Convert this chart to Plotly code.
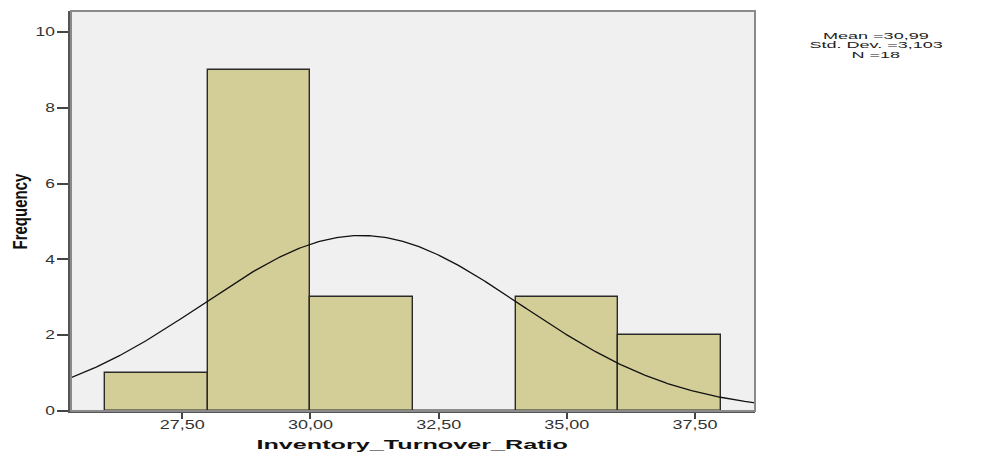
import numpy as np
import plotly.graph_objects as go

# Histogram bins (lower edges) and frequencies
bin_starts = [26, 28, 30, 32, 34, 36]
bin_width = 2
frequencies = [1, 9, 3, 0, 3, 2]

# Summary statistics shown in the corner
mean_val = 30.99
std_val = 3.103
n_obs = 18

x_ticks = [27.5, 30.0, 32.5, 35.0, 37.5]
y_ticks = [0, 2, 4, 6, 8, 10]

x_range = [25.33, 38.67]
y_range = [0, 10.55]

# Plot-area geometry in pixels
M_L, M_R, M_T, M_B = 71, 246, 11, 48
W, H = 1001, 459
PW, PH = W - M_L - M_R, H - M_T - M_B


def px_to_paper(xp, yp):
    return (xp - M_L) / PW, (H - M_B - yp) / PH


fig = go.Figure()

centers = [s + bin_width / 2 for s in bin_starts]
fig.add_trace(go.Bar(
    x=centers, y=frequencies, width=[bin_width] * len(centers),
    marker=dict(color="#D3CE97", line=dict(color="#2a2a2a", width=1.4)),
    hoverinfo="skip", showlegend=False,
))

# Fitted normal curve scaled to counts
xs = np.linspace(x_range[0], x_range[1], 400)
ys = n_obs * bin_width / (std_val * np.sqrt(2 * np.pi)) * np.exp(-0.5 * ((xs - mean_val) / std_val) ** 2)
fig.add_trace(go.Scatter(
    x=xs, y=ys, mode="lines", line=dict(color="#111111", width=1.3),
    hoverinfo="skip", showlegend=False,
))

FONT = "Arial, Liberation Sans, sans-serif"
tick_font = dict(family=FONT, size=12, color="#333333")

fig.update_layout(
    width=W, height=H,
    margin=dict(l=M_L, r=M_R, t=M_T, b=M_B, autoexpand=False),
    paper_bgcolor="white", plot_bgcolor="#F0F0F0",
    separators=", ",
    bargap=0,
    xaxis=dict(
        range=x_range, tickvals=x_ticks, tickformat=".2f",
        ticks="outside", ticklen=6, tickwidth=2, tickcolor="#444444",
        tickfont=tick_font, showgrid=False, zeroline=False, automargin=False,
        showline=True, linecolor="#555555", linewidth=1.5,
    ),
    yaxis=dict(
        range=y_range, tickvals=y_ticks,
        ticks="outside", ticklen=11, tickwidth=1.5, tickcolor="#444444",
        tickfont=tick_font, showgrid=False, zeroline=False, automargin=False,
        showline=True, linecolor="#555555", linewidth=2.5,
    ),
)

# Plot frame
fig.add_shape(type="rect", xref="paper", yref="paper", x0=0, y0=0, x1=1, y1=1,
              line=dict(color="#8a8a8a", width=2), fillcolor="rgba(0,0,0,0)", layer="above")

# Axis titles
ax, ay = px_to_paper(412, 445)
fig.add_annotation(xref="paper", yref="paper", x=ax, y=ay, text="<b>Inventory_Turnover_Ratio</b>",
                   showarrow=False, xanchor="center", yanchor="middle",
                   font=dict(family=FONT, size=12, color="#111111"))
ax, ay = px_to_paper(21.5, 211)
fig.add_annotation(xref="paper", yref="paper", x=ax, y=ay, text="<b>Frequency</b>", textangle=-90,
                   showarrow=False, xanchor="center", yanchor="middle",
                   font=dict(family=FONT, size=15, color="#111111"))

# Summary statistics block
stats_lines = [
    "Mean =" + f"{mean_val:.2f}".replace(".", ","),
    "Std. Dev. =" + f"{std_val:.3f}".replace(".", ","),
    f"N ={n_obs}",
]
for i, line in enumerate(stats_lines):
    ax, ay = px_to_paper(876, 35 + 10 * i)
    fig.add_annotation(
        xref="paper", yref="paper", x=ax, y=ay,
        text=line, showarrow=False, xanchor="center", yanchor="middle",
        font=dict(family=FONT, size=9.5, color="#222222"),
    )

# Stretch text about its anchor point (sx horizontally, sy vertically, plus a shift)
post_js = """
function stretch(el, sx, sy, dy){
  var x = parseFloat(el.getAttribute('x') || 0), y = parseFloat(el.getAttribute('y') || 0);
  var t = el.getAttribute('transform') || '';
  el.setAttribute('transform', t + ' translate(' + x + ',' + (y + dy) + ') scale(' + sx + ',' + sy + ') translate(' + (-x) + ',' + (-y) + ')');
}
document.querySelectorAll('.xtick text').forEach(function(e){ stretch(e, 1.5, 1, -4); });
document.querySelectorAll('.ytick text').forEach(function(e){ stretch(e, 1.45, 1, 0); });
document.querySelectorAll('text.annotation-text').forEach(function(e){
  var s = e.textContent;
  if (s.indexOf('Inventory') >= 0) { stretch(e, 2.1, 1, 0); }
  else if (s.indexOf('Frequency') >= 0) { stretch(e, 1, 1.3, 0); }
  else { stretch(e, 1.9, 1, 0); }
});
"""
fig.write_html("out.html", post_script=post_js)
